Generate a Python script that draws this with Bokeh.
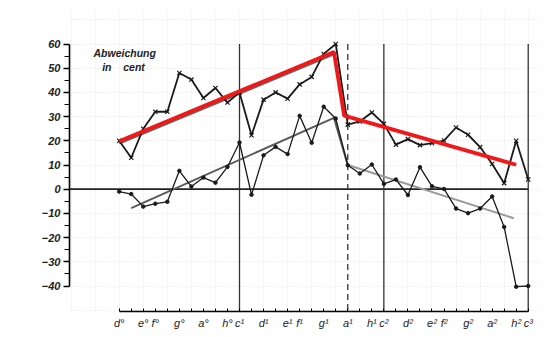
from bokeh.plotting import figure
from bokeh.models import FixedTicker, Range1d, Label
from bokeh.embed import file_html
from bokeh.resources import INLINE

# semitone index from d° (0) to c³ (34)
semitones = list(range(35))
upper = [20, 13, 25, 32, 32, 48, 45.3, 37.7, 41.8, 35.8, 40, 22.3, 37, 40, 37.4,
         43.3, 46.4, 55.9, 60, 26.7, 28, 31.7, 27, 18.4, 20.7, 18.2, 19, 20.1, 25.5,
         22.5, 17.4, 10.4, 2.5, 20, 4]
lower = [-1, -2, -7.2, -6, -5.2, 7.6, 1.1, 4.8, 2.7, 9.2, 19.3, -2.3, 14, 17.5, 14.5,
         30.3, 19.2, 34.1, 29.2, 9.9, 6.5, 10.2, 2.2, 4, -2.4, 9.1, 1.2, 0.1, -8,
         -9.9, -8, -3, -15.6, -40.3, -40]

# trend lines
red_x = [0, 17.85, 18.7, 33]
red_y = [19.8, 56.7, 30.4, 10.1]
gray_up_x = [0, 17.85]
gray_up_y = [18.9, 55.8]
gray_lo1_x = [1, 17.85, 19]
gray_lo1_y = [-7.8, 29.5, 9.9]
gray_lo2_x = [19, 32.8]
gray_lo2_y = [10, -12]

note_pos = [0, 2, 3, 5, 7, 9, 10, 12, 14, 15, 17, 19, 21, 22, 24, 26, 27, 29, 31, 33, 34]
note_labels = ["d°", "e°", "f°", "g°", "a°", "h°", "c¹", "d¹", "e¹", "f¹", "g¹", "a¹",
               "h¹", "c²", "d²", "e²", "f²", "g²", "a²", "h²", "c³"]
c_lines = [10, 22, 34]
dashed_line = [19]
y_ticks = [-40, -30, -20, -10, 0, 10, 20, 30, 40, 50, 60]

W, H = 546, 337
L, R, T, B = 69, 6, 10, 26
px_per_semi = 12.03
px_per_unit = 2.42
x0 = (L - 118.7) / px_per_semi
x1 = x0 + (W - L - R) / px_per_semi
y1 = (188.7 - T) / px_per_unit
y0 = y1 - (H - T - B) / px_per_unit

p = figure(width=W, height=H, output_backend="svg", toolbar_location=None,
           x_range=Range1d(x0, x1), y_range=Range1d(y0, y1),
           min_border_left=L, min_border_right=R, min_border_top=T, min_border_bottom=B)
p.outline_line_color = None
p.background_fill_color = "white"
p.border_fill_color = "white"

# faint graph-paper grid
p.xgrid.ticker = FixedTicker(ticks=list(range(-4, 36, 2)))
p.ygrid.ticker = FixedTicker(ticks=list(range(-50, 75, 10)))
for g in (p.xgrid, p.ygrid):
    g.grid_line_color = "#e2e2e2"
    g.grid_line_dash = "1 2"
    g.grid_line_width = 1

# axes
ya = p.yaxis[0]
ya.ticker = FixedTicker(ticks=y_ticks, minor_ticks=[t + 5 for t in y_ticks[:-1]])
ya.bounds = (y_ticks[0], y_ticks[-1])
ya.major_label_overrides = {t: (("−" + str(-t)) if t < 0 else str(t)) for t in y_ticks}
ya.major_tick_out = 6
ya.major_tick_in = 0
ya.minor_tick_out = 5
ya.minor_tick_in = 0
ya.axis_line_width = 1.6
ya.major_tick_line_width = 1.4
ya.minor_tick_line_width = 1.2
ya.major_label_standoff = 3
ya.major_label_text_font = "Liberation Sans"
ya.major_label_text_font_style = "bold italic"
ya.major_label_text_font_size = "11px"
ya.major_label_text_color = "#222222"

xa = p.xaxis[0]
xa.ticker = FixedTicker(ticks=semitones)
xa.bounds = (semitones[0], semitones[-1])
xa.major_label_overrides = {i: "" for i in semitones}
xa.major_label_overrides.update({pos: lab for pos, lab in zip(note_pos, note_labels)})
xa.major_tick_in = 3
xa.major_tick_out = 0
xa.minor_tick_line_color = None
xa.axis_line_width = 1.6
xa.major_tick_line_width = 1
xa.major_label_standoff = 5
xa.major_label_text_font = "Liberation Sans"
xa.major_label_text_font_style = "italic"
xa.major_label_text_font_size = "11px"
xa.major_label_text_color = "#222222"

# structural lines
p.segment(x0=[x0], y0=[0], x1=[semitones[-1]], y1=[0], line_color="#222222", line_width=1.8)
p.segment(x0=c_lines, y0=[y_ticks[-1]] * len(c_lines), x1=c_lines, y1=[y0] * len(c_lines),
          line_color="#333333", line_width=1.3)
p.segment(x0=dashed_line, y0=[y_ticks[-1]], x1=dashed_line, y1=[y0],
          line_color="#333333", line_width=1.3, line_dash="6 4")

# gray trend lines
p.line(gray_up_x, gray_up_y, line_color="#666666", line_width=2.5)
p.line(gray_lo1_x, gray_lo1_y, line_color="#5a5a5a", line_width=2)
p.line(gray_lo2_x, gray_lo2_y, line_color="#9a9a9a", line_width=2)

# data series
p.line(semitones, lower, line_color="#1a1a1a", line_width=1.3)
p.scatter(semitones, lower, marker="circle", size=3.5, fill_color="#1a1a1a", line_color="#1a1a1a")
p.line(semitones, upper, line_color="#1a1a1a", line_width=1.8)
p.scatter(semitones, upper, marker="x", size=6, line_color="#1a1a1a", line_width=1.2)

# red trend
p.line(red_x, red_y, line_color="#f01818", line_width=3.8)

nb = "\u00a0"
p.add_layout(Label(x=(93 - 118.7) / px_per_semi, y=(188.7 - 52.5) / px_per_unit, text="Abweichung",
                   text_font="Liberation Sans", text_font_style="bold italic", text_font_size="10.5px",
                   text_baseline="middle", text_color="#222222"))
p.add_layout(Label(x=(101.7 - 118.7) / px_per_semi, y=(188.7 - 66.5) / px_per_unit,
                   text="in" + nb * 4 + "cent",
                   text_font="Liberation Sans", text_font_style="bold italic", text_font_size="10.5px",
                   text_baseline="middle", text_color="#222222"))

open("out.html", "w").write(file_html(p, INLINE))
